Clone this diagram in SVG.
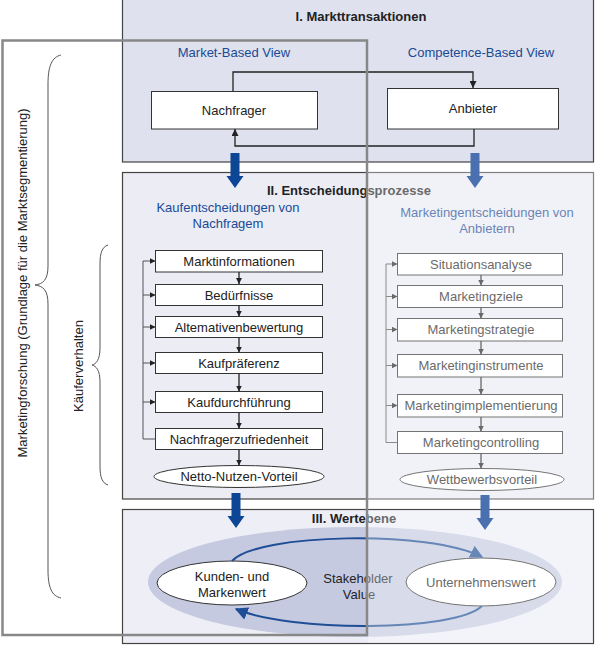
<svg xmlns="http://www.w3.org/2000/svg" width="595" height="645" viewBox="0 0 595 645">
<style>
text{font-family:"Liberation Sans",Arial,sans-serif;font-size:13px;fill:#222;text-anchor:middle}
.title{font-weight:bold}
.blue{fill:#1a4a94}
.panel{stroke:#444;stroke-width:1.2}
.box{fill:#fff;stroke:#333;stroke-width:1}
.ln{fill:none;stroke:#222;stroke-width:1.3}
.fb{fill:none;stroke:#555;stroke-width:1}
.brace{fill:none;stroke:#555;stroke-width:1}
.arc{fill:none;stroke:#1f4e96;stroke-width:2}
</style>
<defs>
<marker id="ah" viewBox="0 0 8 8" refX="8" refY="4" markerWidth="7" markerHeight="7" orient="auto" markerUnits="userSpaceOnUse"><path d="M0,0 L8,4 L0,8 z" fill="#222"/></marker>
<marker id="ahs" viewBox="0 0 8 8" refX="8" refY="4" markerWidth="6" markerHeight="6" orient="auto" markerUnits="userSpaceOnUse"><path d="M0,0 L8,4 L0,8 z" fill="#222"/></marker>
<marker id="ahb" viewBox="0 0 10 10" refX="9" refY="5" markerWidth="13" markerHeight="13" orient="auto" markerUnits="userSpaceOnUse"><path d="M0,0 L10,5 L0,10 z" fill="#1f4e96"/></marker>
<path id="big" d="M-4.5,0 H4.5 V23 H8.5 L0,35 L-8.5,23 H-4.5 Z"/>
</defs>

<g id="panel-I">
<rect class="panel" x="122.5" y="-1" width="471" height="163" fill="#dfe1ee"/>
<text class="title" x="361" y="21">I. Markttransaktionen</text>
<text class="blue" x="234" y="57">Market-Based View</text>
<text class="blue" x="481" y="57">Competence-Based View</text>
</g>
<g id="panel-II">
<rect class="panel" x="122.5" y="172.5" width="471" height="326.5" fill="#ebecf4"/>
<text class="title" x="349" y="195">II. Entscheidungsprozesse</text>
<text class="blue" x="228" y="212">Kaufentscheidungen von</text>
<text class="blue" x="228" y="228">Nachfragem</text>
<text class="blue" x="487" y="217">Marketingentscheidungen von</text>
<text class="blue" x="487" y="233">Anbietern</text>
</g>
<g id="panel-III">
<rect class="panel" x="122.5" y="509.5" width="471" height="134" fill="#eeeff6"/>
<text class="title" x="354" y="523">III. Wertebene</text>
<ellipse cx="355" cy="582" rx="207" ry="55" fill="#c5cae1"/>
<text x="358" y="583">Stakeholder</text>
<text x="359" y="599">Value</text>
</g>

<g id="nachfrager"><rect class="box" x="151.5" y="91.5" width="166" height="37.5"/><text x="234" y="115">Nachfrager</text></g>
<g id="anbieter"><rect class="box" x="387.5" y="88.5" width="171" height="40.5"/><text x="473" y="113">Anbieter</text></g>

<g id="marktinformationen"><rect class="box" x="155.5" y="250.5" width="167" height="21.5"/><text x="239" y="266">Marktinformationen</text></g>
<g id="beduerfnisse"><rect class="box" x="155.5" y="284.5" width="167" height="21"/><text x="239" y="300">Bedürfnisse</text></g>
<g id="alternativenbewertung"><rect class="box" x="155.5" y="316.5" width="167" height="21"/><text x="239" y="332">Altemativenbewertung</text></g>
<g id="kaufpraeferenz"><rect class="box" x="155.5" y="352.5" width="167" height="21"/><text x="239" y="368">Kaufpräferenz</text></g>
<g id="kaufdurchfuehrung"><rect class="box" x="155.5" y="391.5" width="167" height="21"/><text x="239" y="407">Kaufdurchführung</text></g>
<g id="nachfragerzufriedenheit"><rect class="box" x="155.5" y="428.5" width="167" height="21"/><text x="239" y="444">Nachfragerzufriedenheit</text></g>
<g id="netto-nutzen-vorteil"><ellipse class="box" cx="239" cy="476.5" rx="85" ry="11"/><text x="239" y="481">Netto-Nutzen-Vorteil</text></g>

<g id="situationsanalyse"><rect class="box" x="397.5" y="253.5" width="165" height="21.5"/><text x="481" y="269">Situationsanalyse</text></g>
<g id="marketingziele"><rect class="box" x="397.5" y="285.5" width="165" height="22"/><text x="481" y="301">Marketingziele</text></g>
<g id="marketingstrategie"><rect class="box" x="397.5" y="318.5" width="165" height="22.5"/><text x="481" y="334">Marketingstrategie</text></g>
<g id="marketinginstrumente"><rect class="box" x="397.5" y="354.5" width="165" height="22.5"/><text x="481" y="370">Marketinginstrumente</text></g>
<g id="marketingimplementierung"><rect class="box" x="397.5" y="394.5" width="165" height="22.5"/><text x="481" y="410">Marketingimplementierung</text></g>
<g id="marketingcontrolling"><rect class="box" x="397.5" y="431.5" width="165" height="22"/><text x="481" y="447">Marketingcontrolling</text></g>
<g id="wettbewerbsvorteil"><ellipse class="box" cx="482" cy="479.5" rx="82" ry="11"/><text x="482" y="484">Wettbewerbsvorteil</text></g>

<g id="kunden-markenwert"><ellipse class="box" cx="232" cy="583" rx="75" ry="22"/><text x="232" y="581">Kunden- und</text><text x="232" y="597">Markenwert</text></g>
<g id="unternehmenswert"><ellipse class="box" cx="481" cy="582" rx="75" ry="24"/><text x="481" y="587">Unternehmenswert</text></g>

<g id="connectors">
<path class="ln" d="M233,91 V72 H473 V88" marker-end="url(#ah)"/>
<path class="ln" d="M474,129 V146 H235 V129" marker-end="url(#ah)"/>
<g class="ln" stroke-width="1">
<path d="M239,272 V284" marker-end="url(#ahs)"/>
<path d="M239,305.5 V316.5" marker-end="url(#ahs)"/>
<path d="M239,337.5 V352.5" marker-end="url(#ahs)"/>
<path d="M239,373.5 V391.5" marker-end="url(#ahs)"/>
<path d="M239,412.5 V428.5" marker-end="url(#ahs)"/>
<path d="M239,449.5 V465.5" marker-end="url(#ahs)"/>
<path d="M481,275 V285.5" marker-end="url(#ahs)"/>
<path d="M481,307.5 V318.5" marker-end="url(#ahs)"/>
<path d="M481,341 V354.5" marker-end="url(#ahs)"/>
<path d="M481,377 V394.5" marker-end="url(#ahs)"/>
<path d="M481,417 V431.5" marker-end="url(#ahs)"/>
<path d="M481,453.5 V468.5" marker-end="url(#ahs)"/>
</g>
<path class="fb" d="M155.5,439 H143 V261"/>
<g class="fb">
<path d="M143,261 H155.5" marker-end="url(#ahs)"/>
<path d="M143,295 H155.5" marker-end="url(#ahs)"/>
<path d="M143,327 H155.5" marker-end="url(#ahs)"/>
<path d="M143,363 H155.5" marker-end="url(#ahs)"/>
<path d="M143,402 H155.5" marker-end="url(#ahs)"/>
</g>
<path class="fb" d="M397.5,442.5 H386 V264"/>
<g class="fb">
<path d="M386,264 H397.5" marker-end="url(#ahs)"/>
<path d="M386,296.5 H397.5" marker-end="url(#ahs)"/>
<path d="M386,329.5 H397.5" marker-end="url(#ahs)"/>
<path d="M386,365.5 H397.5" marker-end="url(#ahs)"/>
<path d="M386,405.5 H397.5" marker-end="url(#ahs)"/>
</g>
<path class="arc" d="M232,561 C258,533 430,530 482,557" marker-end="url(#ahb)"/>
<path class="arc" d="M482,606 C455,632 290,632 236,609" marker-end="url(#ahb)"/>
<use href="#big" x="235" y="153" fill="#0d4694"/>
<use href="#big" x="236" y="493" fill="#0d4694"/>
</g>

<path id="fade" d="M368,163 H595 V509 H368 Z M368,510.5 H592.5 V643 H368 Z" fill="#fff" opacity="0.32"/>

<g id="light-arrows">
<use href="#big" x="475" y="153" fill="#4a70b0"/>
<use href="#big" x="485" y="495" fill="#4a70b0"/>
</g>

<g id="braces">
<path class="brace" d="M61,55 C52,57 48,66 48,84 L48,266 C48,280 43,284 35,285 C43,286 48,290 48,304 L48,570 C48,588 52,596 61,598"/>
<path class="brace" d="M108,245 C102,247 100,253 100,264 L100,348 C100,360 96,364 92,365 C96,366 100,370 100,382 L100,466 C100,477 102,483 108,485"/>
<text x="0" y="0" transform="translate(27,283) rotate(-90)">Marketingforschung (Grundlage für die Marktsegmentierung)</text>
<text x="0" y="0" transform="translate(83,366) rotate(-90)">Käuferverhalten</text>
</g>

<rect id="frame" x="2.5" y="40.5" width="364.5" height="594.5" fill="none" stroke="#888" stroke-width="2.5"/>
</svg>
